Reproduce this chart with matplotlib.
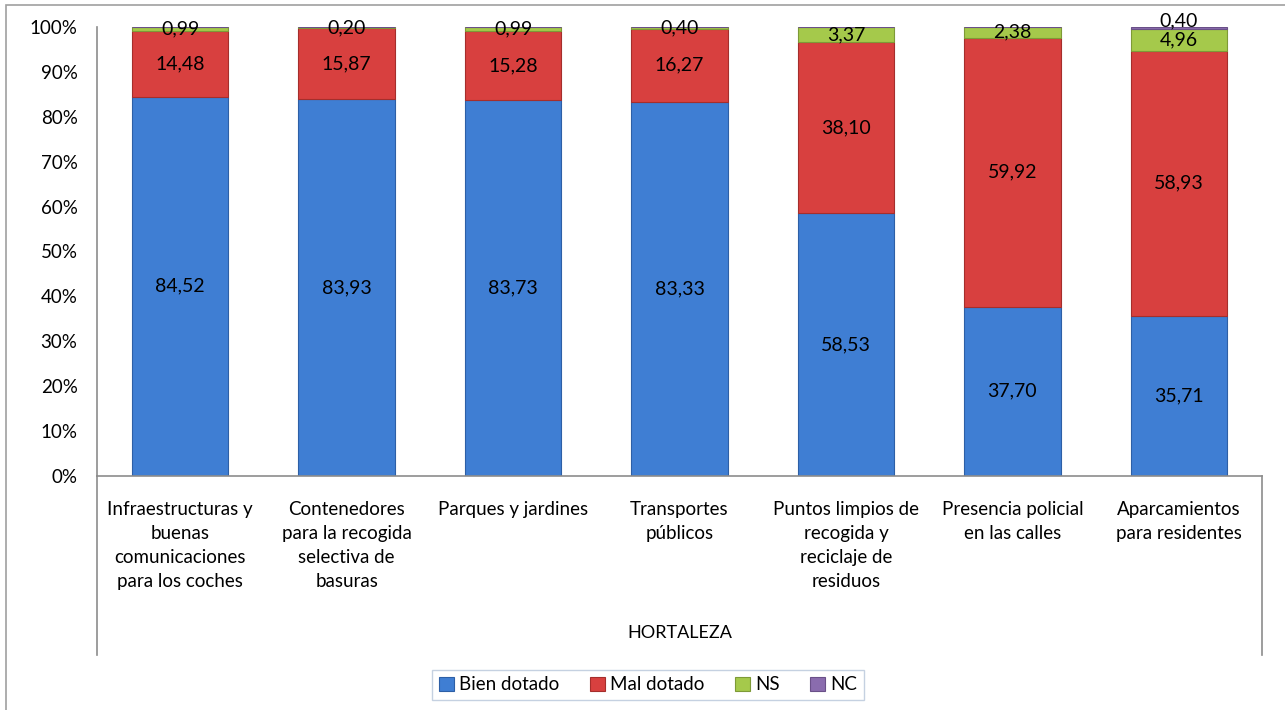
import matplotlib.pyplot as plt
import numpy as np
from matplotlib.lines import Line2D
from matplotlib.patches import Rectangle

categories = [
    'Infraestructuras y\nbuenas\ncomunicaciones\npara los coches',
    'Contenedores\npara la recogida\nselectiva de\nbasuras',
    'Parques y jardines',
    'Transportes\npúblicos',
    'Puntos limpios de\nrecogida y\nreciclaje de\nresiduos',
    'Presencia policial\nen las calles',
    'Aparcamientos\npara residentes',
]
bien = [84.52, 83.93, 83.73, 83.33, 58.53, 37.70, 35.71]
mal = [14.48, 15.87, 15.28, 16.27, 38.10, 59.92, 58.93]
ns = [0.99, 0.20, 0.99, 0.40, 3.37, 2.38, 4.96]
nc = [0.0, 0.0, 0.0, 0.0, 0.0, 0.0, 0.40]
group_label = 'HORTALEZA'
series_names = ['Bien dotado', 'Mal dotado', 'NS', 'NC']

colors = ['#3F7ED3', '#D8403F', '#A5C94B', '#8A6CAE']
edges = ['#2D5FA6', '#A52E2C', '#7E9A37', '#6A5088']

plt.rcParams['font.family'] = ['Lato', 'DejaVu Sans']

fig = plt.figure(figsize=(12.85, 7.10), dpi=100)
W, H = 1285, 710
ax = fig.add_axes([97 / W, 1 - 476 / H, (1262 - 97) / W, (476 - 27) / H])

x = np.arange(len(categories))
width = 0.58
series = [bien, mal, ns, nc]
bottom = np.zeros(len(categories))
handles = []
for vals, name, c, ec in zip(series, series_names, colors, edges):
    vals = np.array(vals)
    rects = ax.bar(x, vals, width, bottom=bottom, color=c, edgecolor=ec,
                   linewidth=0.8, label=name)
    handles.append(rects)
    for xi, b, v in zip(x, bottom, vals):
        if v <= 0:
            continue
        lbl = f'{v:.2f}'.replace('.', ',')
        if name == 'NC':
            ax.text(xi, b + v - 0.6, lbl, ha='center', va='bottom', fontsize=14)
        else:
            ax.text(xi, b + v / 2, lbl, ha='center', va='center', fontsize=14)
    bottom = bottom + vals

ax.set_xlim(-0.5, len(categories) - 0.5)
ax.set_ylim(0, 100)
ax.set_yticks(np.arange(0, 101, 10))
ax.set_yticklabels([f'{v}%' for v in range(0, 101, 10)], fontsize=13.5)
ax.tick_params(axis='y', length=0, pad=14)
ax.set_xticks([])
for s in ['top', 'right']:
    ax.spines[s].set_visible(False)
ax.spines['left'].set_color('#8C8C8C')
ax.spines['bottom'].set_color('#8C8C8C')
ax.spines['left'].set_linewidth(1.2)
ax.spines['bottom'].set_linewidth(1.2)

# category labels below axis
for xi, lab in zip(x, categories):
    ax.text(xi, -5.5, lab, ha='center', va='top', fontsize=13.5, linespacing=1.5)
ax.text((len(categories) - 1) / 2, -35, group_label, ha='center', va='center', fontsize=13)

# vertical lines of the category area
for xp in [97, 1262]:
    fig.add_artist(Line2D([xp / W, xp / W], [1 - 655 / H, 1 - 476 / H],
                          color='#8C8C8C', linewidth=1.2))

# chart outer frame
fig.add_artist(Rectangle((6 / W, -0.1), 1.2, 1 - 5 / H + 0.1, transform=fig.transFigure,
                         fill=False, edgecolor='#A0A0A0', linewidth=1.2))

leg = fig.legend(handles=handles, labels=series_names, loc='center',
                 bbox_to_anchor=(648 / W, 1 - 685 / H), ncol=4, fontsize=13.5,
                 frameon=True, fancybox=False, handlelength=0.8, handleheight=0.8,
                 handletextpad=0.3, columnspacing=1.6, borderpad=0.35)
leg.get_frame().set_edgecolor('#B7C6DA')
leg.get_frame().set_linewidth(1.0)

plt.savefig('out.png', dpi=100)
